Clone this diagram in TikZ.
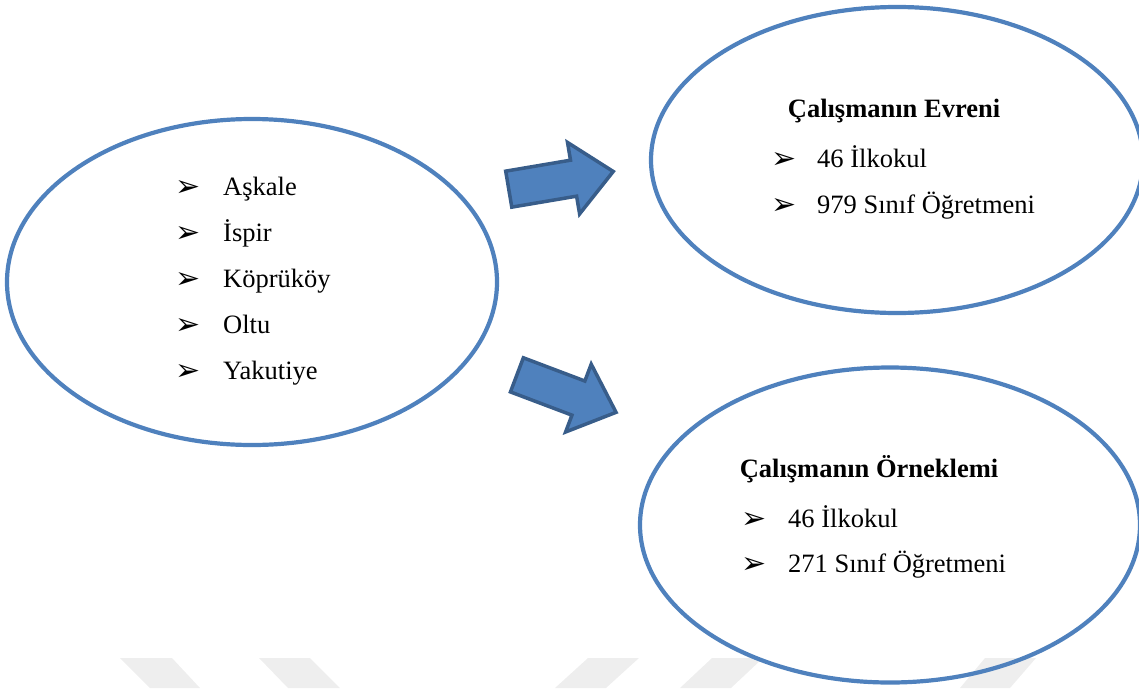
\documentclass[tikz,border=0pt]{standalone}
\usepackage{fontspec}
\setmainfont{Liberation Serif}
\newfontfamily\dingfont{DejaVu Sans}
\usetikzlibrary{shapes.geometric,shapes.arrows}
\definecolor{ovalblue}{RGB}{79,129,189}
\definecolor{arrowfill}{RGB}{79,129,189}
\definecolor{arrowedge}{RGB}{56,93,138}
\definecolor{markgray}{RGB}{238,238,238}
\tikzset{
  oval/.style={ellipse,draw=ovalblue,line width=4.2pt,inner sep=0pt},
  bigarrow/.style={single arrow,fill=arrowfill,draw=arrowedge,line width=3.5pt,
    inner xsep=0pt,inner ysep=16.5pt,single arrow head extend=18pt,
    single arrow tip angle=84,single arrow head indent=0pt},
  item/.style={anchor=base west,inner sep=0pt,font=\fontsize{26.5}{30}\selectfont},
  title/.style={anchor=base,inner sep=0pt,font=\fontsize{26.5}{30}\selectfont\bfseries},
  tick/.style={anchor=base west,inner sep=0pt,font=\dingfont\fontsize{30}{34}\selectfont}
}
\begin{document}
\begin{tikzpicture}[x=1pt,y=-1pt]
  \useasboundingbox (0,0) rectangle (1139,688);
  % faint watermark at the bottom
  \fill[markgray] (120,658) -- (172,658) -- (200,688) -- (150,688) -- cycle;
  \fill[markgray] (259,658) -- (310,658) -- (340,688) -- (288,688) -- cycle;
  \fill[markgray] (588,658) -- (639,658) -- (606,688) -- (555,688) -- cycle;
  \fill[markgray] (712,658) -- (763,658) -- (731,688) -- (680,688) -- cycle;
  \fill[markgray] (985,658) -- (1036,658) -- (1010,688) -- (960,688) -- cycle;

  \node[oval,minimum width=490,minimum height=326] (region) at (252,282) {};
  \node[oval,minimum width=492,minimum height=306] (evren) at (897,160) {};
  \node[oval,minimum width=500,minimum height=315] (orneklem) at (890,525) {};

  \node[bigarrow,minimum height=106,rotate=9.6] (toevren) at (551,182) {};
  \node[bigarrow,minimum height=106,rotate=-20.7] (toorneklem) at (557,390) {};

  % districts
  \foreach \x [count=\i] in {Aşkale,İspir,Köprüköy,Oltu,Yakutiye}{
    \node[tick] (lb\i) at (175,{150+46*\i}) {➢};
    \node[item] (l\i) at (223,{149+46*\i}) {\x};
  }

  % population
  \node[title] (evrentitle) at (894,117) {Çalışmanın Evreni};
  \node[tick] (eb1) at (771,168) {➢};
  \node[item] (e1) at (817,167) {46 İlkokul};
  \node[tick] (eb2) at (771,214) {➢};
  \node[item] (e2) at (817,213) {979 Sınıf Öğretmeni};

  % sample
  \node[title] (ornektitle) at (869,477) {Çalışmanın Örneklemi};
  \node[tick] (ob1) at (741,528) {➢};
  \node[item] (o1) at (788,527) {46 İlkokul};
  \node[tick] (ob2) at (741,573) {➢};
  \node[item] (o2) at (788,572) {271 Sınıf Öğretmeni};
\end{tikzpicture}
\end{document}
